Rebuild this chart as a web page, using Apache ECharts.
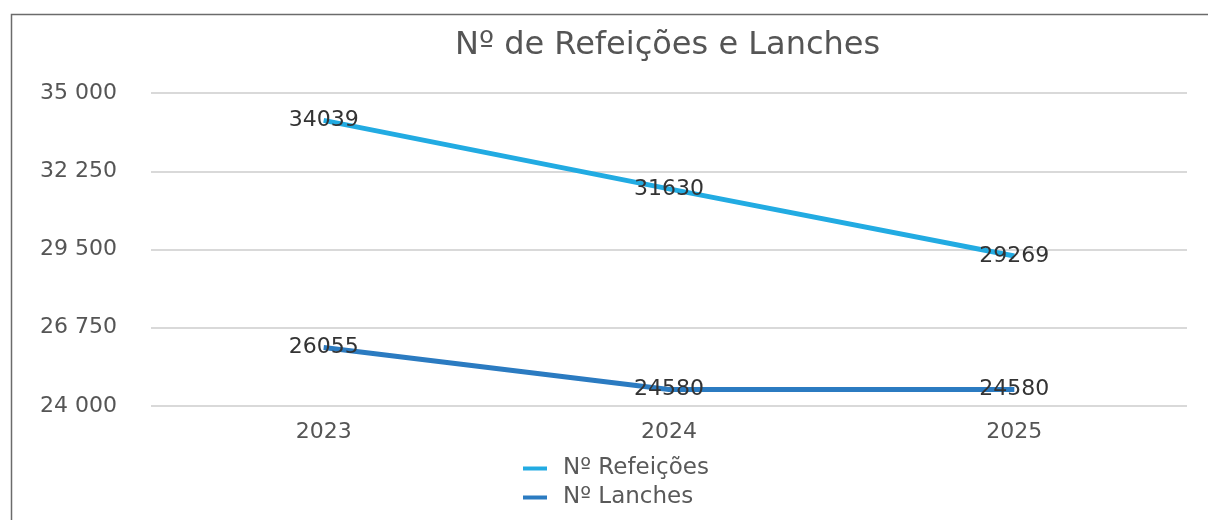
<!DOCTYPE html>
<html>
<head>
<meta charset="utf-8">
<script src="https://cdn.jsdelivr.net/npm/echarts@6/dist/echarts.min.js"></script>
<style>
html,body{margin:0;padding:0;background:#fff;}
#c{width:1208px;height:520px;}
</style>
</head>
<body>
<div id="c"></div>
<script>
const years = ['2023', '2024', '2025'];
const refeicoes = [34039, 31630, 29269];
const lanches = [26055, 24580, 24580];
const seriesNames = ['Nº Refeições', 'Nº Lanches'];
const titleText = 'Nº de Refeições e Lanches';

const FONT = '"DejaVu Sans", Verdana, sans-serif';
const chart = echarts.init(document.getElementById('c'), null, {renderer: 'canvas'});
const fmt = v => String(v).replace(/\B(?=(\d{3})+(?!\d))/g, ' ');
const labelStyle = {show: true, position: 'inside', color: '#333', fontSize: 22, fontFamily: FONT, formatter: p => String(p.value)};
chart.setOption({
  animation: false,
  graphic: [{
    type: 'rect', left: 9, top: 12, z: -1,
    shape: {width: 1300, height: 600},
    style: {fill: 'none', stroke: '#6b6b6b', lineWidth: 1.5}
  }],
  title: {
    text: titleText, left: 455, top: 30, padding: 0,
    textStyle: {fontFamily: FONT, fontSize: 32, fontWeight: 'normal', color: '#555'}
  },
  legend: {
    orient: 'vertical', left: 518, top: 452, itemGap: 6,
    icon: 'rect', itemWidth: 24, itemHeight: 4,
    textStyle: {fontFamily: FONT, fontSize: 23, color: '#595959', padding: [0, 0, 0, 11]},
    data: seriesNames
  },
  grid: {left: 151, right: 21, top: 93, bottom: 114},
  xAxis: {
    type: 'category', data: years, boundaryGap: true,
    axisLine: {show: false}, axisTick: {show: false},
    axisLabel: {fontFamily: FONT, fontSize: 22, color: '#555', margin: 15}
  },
  yAxis: {
    type: 'value', min: 24000, max: 35000, interval: 2750,
    axisLine: {show: false}, axisTick: {show: false},
    axisLabel: {fontFamily: FONT, fontSize: 22, color: '#555', margin: 34, formatter: fmt},
    splitLine: {lineStyle: {color: '#d9d9d9', width: 2}}
  },
  series: [
    {name: seriesNames[0], type: 'line', data: refeicoes, showSymbol: true, symbol: 'circle', symbolSize: 0,
     lineStyle: {color: '#22abe2', width: 5}, itemStyle: {color: '#22abe2'}, label: labelStyle},
    {name: seriesNames[1], type: 'line', data: lanches, showSymbol: true, symbol: 'circle', symbolSize: 0,
     lineStyle: {color: '#2b7bc1', width: 5}, itemStyle: {color: '#2b7bc1'}, label: labelStyle}
  ]
});
</script>
</body>
</html>
